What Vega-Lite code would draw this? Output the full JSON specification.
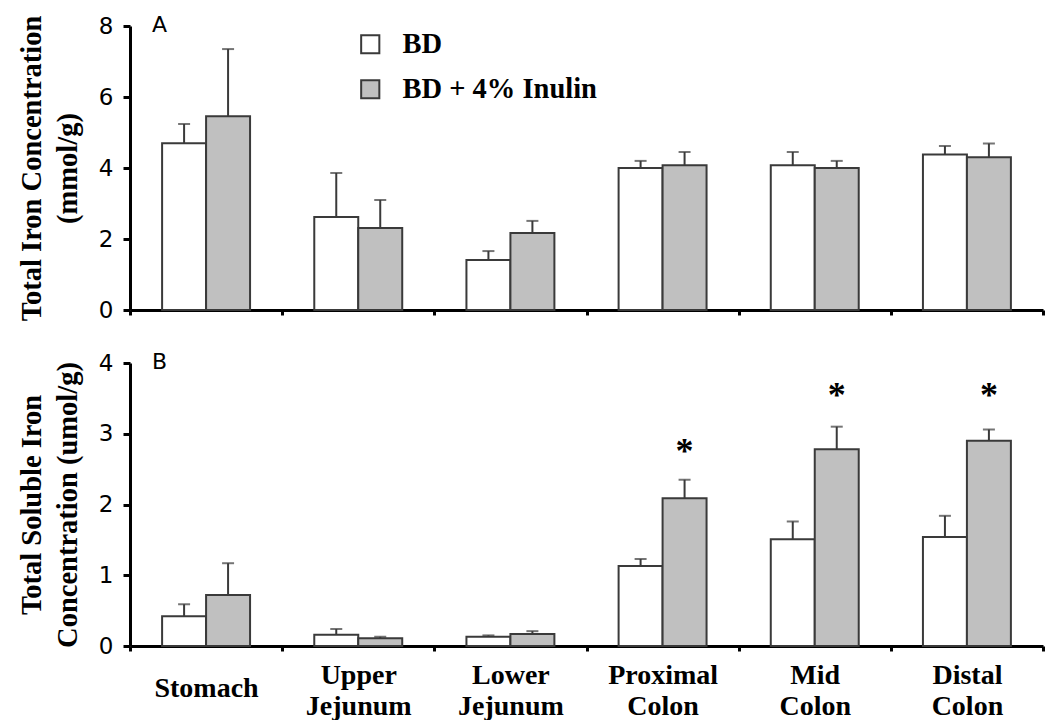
{
  "$schema": "https://vega.github.io/schema/vega-lite/v6.json",
  "background": "white",
  "padding": {"left": 17, "top": 14, "right": 0, "bottom": 0},
  "bounds": "flush",
  "spacing": 53,
  "datasets": {
    "iron": [
      {"region": "Stomach", "diet": "BD", "total": 4.70, "total_upper": 5.24, "soluble": 0.42, "soluble_upper": 0.59},
      {"region": "Stomach", "diet": "BD + 4% Inulin", "total": 5.46, "total_upper": 7.35, "soluble": 0.72, "soluble_upper": 1.17},
      {"region": "Upper Jejunum", "diet": "BD", "total": 2.62, "total_upper": 3.86, "soluble": 0.16, "soluble_upper": 0.24},
      {"region": "Upper Jejunum", "diet": "BD + 4% Inulin", "total": 2.31, "total_upper": 3.10, "soluble": 0.11, "soluble_upper": 0.13},
      {"region": "Lower Jejunum", "diet": "BD", "total": 1.41, "total_upper": 1.66, "soluble": 0.13, "soluble_upper": 0.15},
      {"region": "Lower Jejunum", "diet": "BD + 4% Inulin", "total": 2.17, "total_upper": 2.51, "soluble": 0.17, "soluble_upper": 0.21},
      {"region": "Proximal Colon", "diet": "BD", "total": 4.00, "total_upper": 4.20, "soluble": 1.13, "soluble_upper": 1.23},
      {"region": "Proximal Colon", "diet": "BD + 4% Inulin", "total": 4.08, "total_upper": 4.45, "soluble": 2.09, "soluble_upper": 2.35, "star": 2.80},
      {"region": "Mid Colon", "diet": "BD", "total": 4.08, "total_upper": 4.45, "soluble": 1.51, "soluble_upper": 1.76},
      {"region": "Mid Colon", "diet": "BD + 4% Inulin", "total": 4.00, "total_upper": 4.20, "soluble": 2.78, "soluble_upper": 3.10, "star": 3.59},
      {"region": "Distal Colon", "diet": "BD", "total": 4.38, "total_upper": 4.62, "soluble": 1.54, "soluble_upper": 1.84},
      {"region": "Distal Colon", "diet": "BD + 4% Inulin", "total": 4.30, "total_upper": 4.69, "soluble": 2.90, "soluble_upper": 3.06, "star": 3.59}
    ]
  },
  "config": {
    "view": {"stroke": null},
    "axis": {
      "grid": false,
      "domainColor": "black",
      "domainWidth": 3,
      "tickColor": "black",
      "tickWidth": 3,
      "labelColor": "black",
      "titleColor": "black"
    },
    "axisY": {
      "labelFont": "DejaVu Sans",
      "labelFontSize": 23,
      "labelPadding": 10,
      "tickSize": 7,
      "format": "d",
      "titleFont": "Liberation Serif",
      "titleFontWeight": "bold",
      "titleFontSize": 28.5,
      "titleLineHeight": 36,
      "titlePadding": 16
    },
    "axisX": {
      "tickBand": "extent",
      "tickSize": 5,
      "labelFont": "Liberation Serif",
      "labelFontWeight": "bold",
      "labelFontSize": 28,
      "labelLineHeight": 31,
      "labelAngle": 0
    }
  },
  "resolve": {"scale": {"y": "independent"}, "legend": {"fill": "independent"}},
  "vconcat": [
    {
      "width": 913,
      "height": 284,
      "title": {"text": "A", "anchor": "start", "frame": "group", "font": "DejaVu Sans", "fontSize": 22, "fontWeight": "normal", "color": "black", "offset": -22, "dx": 22},
      "data": {"name": "iron"},
      "encoding": {
        "x": {"field": "region", "type": "nominal", "sort": null,
              "scale": {"paddingInner": 0, "paddingOuter": 0},
              "axis": {"title": null, "labels": false}},
        "xOffset": {"field": "diet", "type": "nominal", "sort": null,
                    "scale": {"paddingInner": 0, "paddingOuter": 0.73}}
      },
      "layer": [
        {
          "mark": {"type": "bar", "stroke": "#3a3a3a", "strokeWidth": 2},
          "encoding": {
            "y": {"field": "total", "type": "quantitative",
                  "scale": {"domain": [0, 8]},
                  "axis": {"values": [0, 2, 4, 6, 8], "title": ["Total Iron Concentration", "(mmol/g)"]}},
            "fill": {"field": "diet", "type": "nominal",
                     "scale": {"domain": ["BD", "BD + 4% Inulin"], "range": ["white", "#c0c0c0"]},
                     "legend": {"title": null, "orient": "none", "legendX": 226, "legendY": 4,
                                "symbolType": "square", "symbolSize": 330, "symbolStrokeColor": "#3a3a3a", "symbolStrokeWidth": 2,
                                "labelFont": "Liberation Serif", "labelFontWeight": "bold", "labelFontSize": 28.5, "labelColor": "black",
                                "labelLimit": 0, "labelOffset": 18, "rowPadding": 16}}
          }
        },
        {
          "mark": {"type": "rule", "color": "#3a3a3a", "strokeWidth": 2},
          "encoding": {"y": {"field": "total", "type": "quantitative"}, "y2": {"field": "total_upper"}}
        },
        {
          "mark": {"type": "tick", "color": "#3a3a3a", "thickness": 2, "size": 12},
          "encoding": {"y": {"field": "total_upper", "type": "quantitative"}}
        }
      ]
    },
    {
      "width": 913,
      "height": 283,
      "title": {"text": "B", "anchor": "start", "frame": "group", "font": "DejaVu Sans", "fontSize": 22, "fontWeight": "normal", "color": "black", "offset": -22, "dx": 22},
      "data": {"name": "iron"},
      "encoding": {
        "x": {"field": "region", "type": "nominal", "sort": null,
              "scale": {"paddingInner": 0, "paddingOuter": 0},
              "axis": {"title": null, "labelExpr": "split(datum.label, ' ')", "labelBaseline": "top",
                       "labelPadding": {"condition": {"test": "datum.label == 'Stomach'", "value": 23}, "value": 10}}},
        "xOffset": {"field": "diet", "type": "nominal", "sort": null,
                    "scale": {"paddingInner": 0, "paddingOuter": 0.73}}
      },
      "layer": [
        {
          "mark": {"type": "bar", "stroke": "#3a3a3a", "strokeWidth": 2},
          "encoding": {
            "y": {"field": "soluble", "type": "quantitative",
                  "scale": {"domain": [0, 4]},
                  "axis": {"values": [0, 1, 2, 3, 4], "title": ["Total Soluble Iron", "Concentration (umol/g)"]}},
            "fill": {"field": "diet", "type": "nominal",
                     "scale": {"domain": ["BD", "BD + 4% Inulin"], "range": ["white", "#c0c0c0"]},
                     "legend": null}
          }
        },
        {
          "mark": {"type": "rule", "color": "#3a3a3a", "strokeWidth": 2},
          "encoding": {"y": {"field": "soluble", "type": "quantitative"}, "y2": {"field": "soluble_upper"}}
        },
        {
          "mark": {"type": "tick", "color": "#3a3a3a", "thickness": 2, "size": 12},
          "encoding": {"y": {"field": "soluble_upper", "type": "quantitative"}}
        },
        {
          "transform": [{"filter": "isValid(datum.star)"}],
          "mark": {"type": "text", "text": "*", "font": "Liberation Serif", "fontWeight": "bold", "fontSize": 36, "baseline": "middle", "color": "black", "dy": 4},
          "encoding": {"y": {"field": "star", "type": "quantitative"}}
        }
      ]
    }
  ]
}
